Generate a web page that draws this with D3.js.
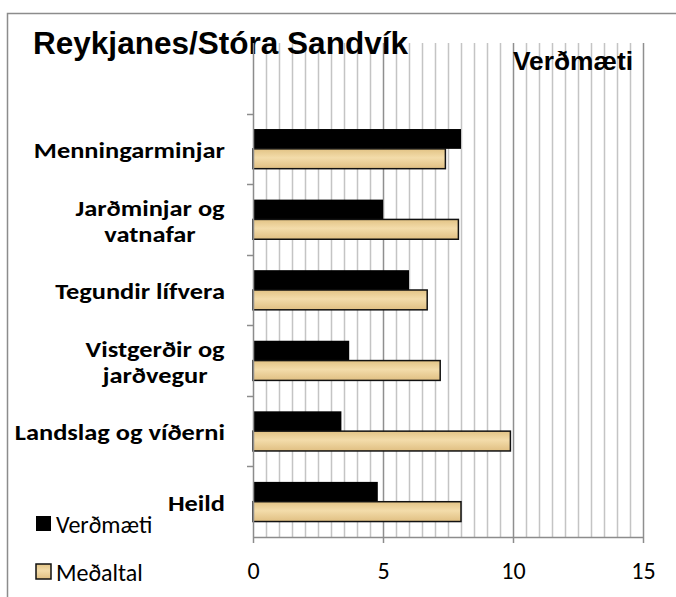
<!DOCTYPE html>
<html>
<head>
<meta charset="utf-8">
<script src="https://cdn.jsdelivr.net/npm/d3@7"></script>
<style>
  body { margin: 0; background: #fff; }
  svg { display: block; }
</style>
</head>
<body>
<div id="container"></div>
<script>
const WIDTH = 676;
const HEIGHT = 597;
const PLOT = { LEFT: 253, RIGHT: 643, TOP: 43, BOTTOM: 537 };

// data
const categories = ['', 'Menningarminjar', 'Jarðminjar og vatnafar', 'Tegundir lífvera',
                    'Vistgerðir og jarðvegur', 'Landslag og víðerni', 'Heild'];
const labelLines = [[], ['Menningarminjar'], ['Jarðminjar og', 'vatnafar'], ['Tegundir lífvera'],
                    ['Vistgerðir og', 'jarðvegur'], ['Landslag og víðerni'], ['Heild']];
const series = ['Verðmæti', 'Meðaltal'];
const verdmaeti = [null, 8.0, 5.0, 6.0, 3.7, 3.4, 4.8];
const medaltal = [null, 7.4, 7.9, 6.7, 7.2, 9.9, 8.0];
const xTicks = [0, 5, 10, 15];

const svg = d3.select('#container')
              .append('svg')
                .attr('width', WIDTH)
                .attr('height', HEIGHT);

const defs = svg.append('defs');
const grad = defs.append('linearGradient')
                 .attr('id', 'tan')
                 .attr('x1', 0).attr('y1', 0).attr('x2', 0).attr('y2', 1);
grad.append('stop').attr('offset', '0%').attr('stop-color', '#e2c385');
grad.append('stop').attr('offset', '45%').attr('stop-color', '#f3dcaa');
grad.append('stop').attr('offset', '100%').attr('stop-color', '#e0bf82');

svg.append('rect')
   .attr('width', WIDTH).attr('height', HEIGHT)
   .attr('fill', '#fff');

// chart border
svg.append('rect')
   .attr('x', 7.5).attr('y', 13.5)
   .attr('width', WIDTH + 20).attr('height', HEIGHT + 20)
   .attr('fill', 'none')
   .attr('stroke', '#8c8c8c')
   .attr('stroke-width', 1.5);

const xscale = d3.scaleLinear().domain([0, 15]).range([PLOT.LEFT, PLOT.RIGHT]);
const yscale = d3.scaleBand().domain(categories).range([PLOT.TOP, PLOT.BOTTOM]);
const sscale = d3.scaleBand().domain(series)
                 .range([0, yscale.bandwidth()])
                 .paddingOuter(0.78);

// gridlines
const grid = svg.append('g');
const minor = d3.range(1, 31).map(d => d / 2).filter(d => d % 5 !== 0);
grid.selectAll('line.minor')
    .data(minor)
    .enter().append('line')
      .attr('x1', d => Math.round(xscale(d)) + 0.5)
      .attr('x2', d => Math.round(xscale(d)) + 0.5)
      .attr('y1', PLOT.TOP).attr('y2', PLOT.BOTTOM)
      .attr('stroke', '#c4c4c4')
      .attr('stroke-width', 1.5);
grid.selectAll('line.major')
    .data([5, 10, 15])
    .enter().append('line')
      .attr('x1', d => Math.round(xscale(d)) + 0.5)
      .attr('x2', d => Math.round(xscale(d)) + 0.5)
      .attr('y1', PLOT.TOP).attr('y2', PLOT.BOTTOM)
      .attr('stroke', '#8f8f8f')
      .attr('stroke-width', 1.5);

// title and axis title (drawn over the grid)
svg.append('text')
   .attr('x', 33).attr('y', 54)
   .attr('textLength', 375)
   .attr('lengthAdjust', 'spacingAndGlyphs')
   .style('font-family', 'Liberation Sans, Arial, sans-serif')
   .style('font-weight', 'bold')
   .style('font-size', '31px')
   .text('Reykjanes/Stóra Sandvík');

svg.append('text')
   .attr('x', 513).attr('y', 70)
   .attr('textLength', 120)
   .attr('lengthAdjust', 'spacingAndGlyphs')
   .style('font-family', 'Liberation Sans, Arial, sans-serif')
   .style('font-weight', 'bold')
   .style('font-size', '25px')
   .text('Verðmæti');

// bars
const rows = categories.map((c, i) => ({ c, v: verdmaeti[i], m: medaltal[i] }))
                       .filter(d => d.v !== null);

const bars = svg.append('g');
bars.selectAll('rect.v')
    .data(rows)
    .enter().append('rect')
      .attr('x', xscale(0))
      .attr('y', d => yscale(d.c) + sscale('Verðmæti'))
      .attr('width', d => xscale(d.v) - xscale(0))
      .attr('height', sscale.bandwidth())
      .attr('fill', '#000');
bars.selectAll('rect.m')
    .data(rows)
    .enter().append('rect')
      .attr('x', xscale(0))
      .attr('y', d => yscale(d.c) + sscale('Meðaltal'))
      .attr('width', d => xscale(d.m) - xscale(0))
      .attr('height', sscale.bandwidth())
      .attr('fill', 'url(#tan)')
      .attr('stroke', '#111')
      .attr('stroke-width', 1.5);

// axes
const axisColor = '#8c8c8c';
const xAxis = svg.append('g')
                 .attr('transform', `translate(0, ${PLOT.BOTTOM})`)
                 .call(d3.axisBottom(xscale).tickValues(xTicks).tickSize(6).tickPadding(19));
xAxis.select('.domain').attr('stroke', axisColor).attr('stroke-width', 1.5)
     .attr('d', `M${PLOT.LEFT},0.5H${PLOT.RIGHT}`);
xAxis.selectAll('.tick line').attr('stroke', axisColor).attr('stroke-width', 1.5);
xAxis.selectAll('.tick text')
     .attr('fill', '#000')
     .style('font-family', 'Carlito, Calibri, Lato, sans-serif')
     .style('font-size', '24px');

const yAxis = svg.append('g');
yAxis.append('line')
     .attr('x1', PLOT.LEFT + 0.5).attr('x2', PLOT.LEFT + 0.5)
     .attr('y1', PLOT.TOP).attr('y2', PLOT.BOTTOM)
     .attr('stroke', axisColor).attr('stroke-width', 1.5);
yAxis.selectAll('line.tick')
     .data(categories.slice(1))
     .enter().append('line')
       .attr('x1', PLOT.LEFT - 6).attr('x2', PLOT.LEFT)
       .attr('y1', d => Math.round(yscale(d)) + 0.5)
       .attr('y2', d => Math.round(yscale(d)) + 0.5)
       .attr('stroke', axisColor).attr('stroke-width', 1.5);

// category labels, right aligned block with centred lines
const SX = 1.2;
const labels = svg.append('g')
                  .style('font-family', 'Carlito, Calibri, Lato, sans-serif')
                  .style('font-weight', 'bold')
                  .style('font-size', '22px');
categories.forEach((c, i) => {
    const lines = labelLines[i];
    if (!lines.length) return;
    const cy = yscale(c) + yscale.bandwidth() / 2 + 2;
    const lh = 26;
    const t = labels.append('text')
                    .attr('text-anchor', 'middle')
                    .attr('dominant-baseline', 'central');
    lines.forEach((l, j) => {
        t.append('tspan')
         .attr('x', 0)
         .attr('y', cy + (j - (lines.length - 1) / 2) * lh)
         .text(l);
    });
    const w = t.node().getBBox().width * SX;
    t.attr('transform', `translate(${225 - w / 2}, 0) scale(${SX}, 1)`);
});

// legend
const legend = svg.append('g')
                  .style('font-family', 'Carlito, Calibri, Lato, sans-serif')
                  .style('font-size', '24px');
const legendItems = legend.selectAll('g')
    .data(series)
    .enter().append('g')
      .attr('transform', (d, i) => `translate(36, ${516 + i * 48})`);
legendItems.append('rect')
    .attr('width', 15).attr('height', 15)
    .attr('fill', (d, i) => i === 0 ? '#000' : 'url(#tan)')
    .attr('stroke', (d, i) => i === 0 ? 'none' : '#111')
    .attr('stroke-width', 1.5);
legendItems.append('text')
    .attr('x', 20).attr('y', 8)
    .attr('dominant-baseline', 'central')
    .text(d => d);
</script>
</body>
</html>
